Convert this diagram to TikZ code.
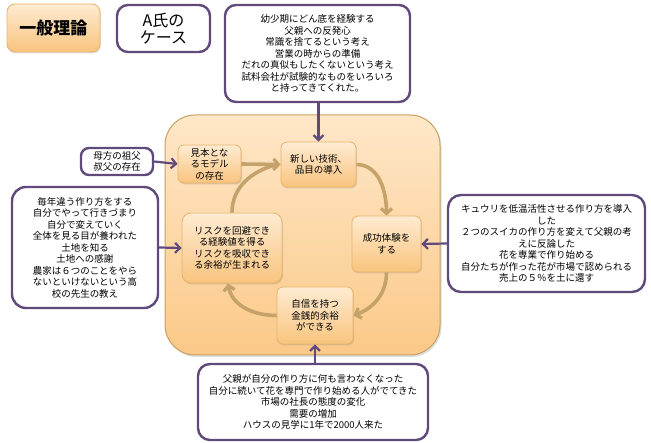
\documentclass[tikz,border=0pt]{standalone}
\usepackage{fontspec}
\setmainfont{Noto Sans CJK JP}
\usetikzlibrary{arrows.meta,shadows}
\definecolor{purp}{HTML}{604A7B}
\definecolor{tanarr}{HTML}{C4A269}
\definecolor{orbord}{HTML}{E8B36A}
\definecolor{ortop}{HTML}{FEEBD2}
\definecolor{orbot}{HTML}{F9C47E}
\definecolor{pantop}{HTML}{FEE7C8}
\definecolor{panbot}{HTML}{FBC988}
\definecolor{panbord}{HTML}{C9A062}
\tikzset{
  txt/.style={font=\fontsize{9.5}{11.5}\selectfont, align=center, inner sep=2pt},
  obox/.style={txt, draw=orbord, line width=0.8pt, rounded corners=6pt,
     top color=ortop, bottom color=orbot,
     drop shadow={opacity=0.25, shadow xshift=1pt, shadow yshift=-1.5pt}},
  pbox/.style={txt, draw=purp, line width=2.4pt, rounded corners=11pt, fill=white},
  parrow/.style={draw=purp, line width=2.2pt, -{Straight Barb[length=5pt,width=10pt,line width=2.2pt]}},
  tline/.style={draw=tanarr, line width=3.6pt},
  tarrow/.style={tline, -{Straight Barb[length=5pt,width=11pt,line width=3.2pt]}}
}
\begin{document}
\begin{tikzpicture}[x=1pt,y=-1pt]
\useasboundingbox (0,0) rectangle (651,443);
% panel
\node[draw=panbord, line width=1pt, rounded corners=30pt, top color=pantop, bottom color=panbot,
      minimum width=275pt, minimum height=240pt,
      drop shadow={opacity=0.25, shadow xshift=1.5pt, shadow yshift=-2pt}] (panel) at (302.5,235) {};
% title boxes
\node[obox, minimum width=93pt, minimum height=48pt, rounded corners=8pt,
      font=\fontsize{17}{20}\selectfont\bfseries] (general) at (53.5,28) {一般理論};
\node[pbox, minimum width=93pt, minimum height=47pt, font=\fontsize{16}{17.5}\selectfont] (acase) at (163.5,28.5) {A氏の\\ケース};
% inner boxes
\node[obox, minimum width=63pt, minimum height=38pt] (model) at (209.5,164) {見本とな\\るモデル\\の存在};
\node[obox, minimum width=75pt, minimum height=45pt] (newtech) at (318.5,164.5) {新しい技術、\\品目の導入};
\node[obox, minimum width=69pt, minimum height=56pt] (success) at (386.5,244) {成功体験を\\する};
\node[obox, minimum width=76pt, minimum height=57pt] (confid) at (315,315.5) {自信を持つ\\金銭的余裕\\ができる};
\node[obox, minimum width=100pt, minimum height=70pt, rounded corners=9pt] (risk) at (232,248) {リスクを回避でき\\る経験値を得る\\リスクを吸収でき\\る余裕が生まれる};
% purple boxes
\node[pbox, minimum width=185pt, minimum height=97pt] (top) at (317.5,53.5) {幼少期にどん底を経験する\\父親への反発心\\常識を捨てるという考え\\営業の時からの準備\\だれの真似もしたくないという考え\\試料会社が試験的なものをいろいろ\\と持ってきてくれた。};
\node[pbox, minimum width=72pt, minimum height=27pt, rounded corners=8pt] (grand) at (117,161.5) {母方の祖父\\叔父の存在};
\node[pbox, minimum width=146pt, minimum height=121pt, rounded corners=14pt] (left) at (85,247.5) {毎年違う作り方をする\\自分でやって行きづまり\\自分で変えていく\\全体を見る目が養われた\\土地を知る\\土地への感謝\\農家は６つのことをやら\\ないといけないという高\\校の先生の教え};
\node[pbox, minimum width=197pt, minimum height=97pt, rounded corners=13pt] (right) at (546.5,243.5) {キュウリを低温活性させる作り方を導入\\した\\２つのスイカの作り方を変えて父親の考\\えに反論した\\花を専業で作り始める\\自分たちが作った花が市場で認められる\\売上の５％を土に還す};
\node[pbox, minimum width=230pt, minimum height=76pt, rounded corners=12pt] (bottom) at (313,402) {父親が自分の作り方に何も言わなくなった\\自分に続いて花を専門で作り始める人がでてきた\\市場の社長の態度の変化\\需要の増加\\ハウスの見学に1年で2000人来た};
% cycle arrows
\draw[tline] (risk.north) to[out=90,in=195] ([xshift=-4pt]newtech.west);
\draw[tarrow] (model.east) -- (newtech.west);
\draw[tarrow] (newtech.east) to[out=0,in=90] (success.north);
\draw[tarrow] (success.south) to[out=-90,in=20] (confid.east);
\draw[tarrow] (confid.west) to[out=180,in=-80] ([xshift=-4pt]risk.south);
% purple arrows
\draw[parrow] (top.south -| newtech.north) -- (newtech.north);
\draw[parrow] (grand.east) -- (model.west);
\draw[parrow] (left.east) -- (risk.west);
\draw[parrow] (right.west) -- (success.east);
\draw[parrow] (bottom.north -| confid.south) -- (confid.south);
\end{tikzpicture}
\end{document}
